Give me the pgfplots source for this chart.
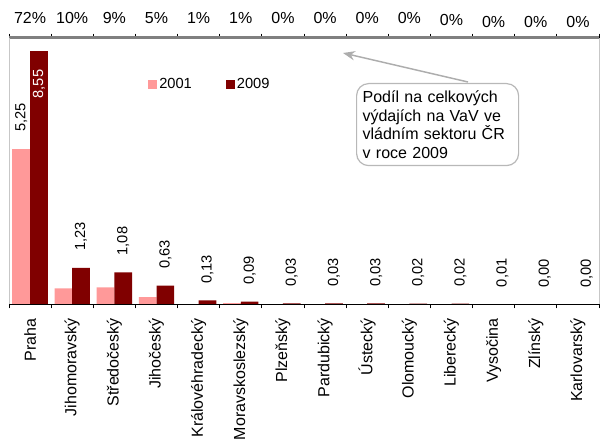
\documentclass[border=0pt]{standalone}
\usepackage{graphicx}
\usepackage{pgfplots}
\pgfplotsset{compat=1.18}
\usepackage{fontspec}
\setmainfont{Liberation Sans}
\usetikzlibrary{arrows.meta}
\definecolor{c01}{HTML}{FF9999}
\definecolor{c09}{HTML}{800000}
\newcommand{\numlab}{\rotatebox{90}{\pgfmathprintnumber[fixed,zerofill,precision=2,use comma]{\pgfplotspointmeta}}}
\pgfplotsset{
  vlabR/.style={nodes near coords={\numlab}, nodes near coords style={anchor=south, inner ysep=12.5pt, inner xsep=0pt, xshift=6.64pt, font=\fontsize{11}{13}\selectfont, black}},
  vlabL/.style={nodes near coords={\numlab}, nodes near coords style={anchor=south, inner ysep=12.5pt, inner xsep=0pt, xshift=-6.64pt, font=\fontsize{11}{13}\selectfont, black}},
}
\begin{document}
\begin{tikzpicture}
\useasboundingbox (0,0) rectangle (450pt,330.75pt);
\begin{axis}[
  at={(6.75pt,102.5pt)}, anchor=south west,
  scale only axis, width=442.5pt, height=200.1pt,
  xmin=-0.5, xmax=13.5, ymin=0, ymax=9,
  clip=false,
  /pgf/number format/assume math mode=true,
  axis line style={draw=none},
  ytick=\empty,
  xtick={0,...,13},
  xticklabels={Praha,Jihomoravský,Středočeský,Jihočeský,Královéhradecký,Moravskoslezský,Plzeňský,Pardubický,Ústecký,Olomoucký,Liberecký,Vysočina,Zlínský,Karlovarský},
  major tick length=0pt,
  xticklabel style={rotate=90, anchor=east, inner sep=0pt, font=\fontsize{12}{14}\selectfont},
  xticklabel shift=10.3pt,
  extra x ticks={-0.5,0.5,...,13.5},
  extra x tick labels={},
  extra x tick style={major tick length=3pt, tick align=outside, tick style={black, line width=0.75pt}},
  legend style={at={(axis description cs:0.2356,0.824)}, anchor=west, draw=none, fill=none, inner sep=0pt,
    font=\fontsize{11}{13}\selectfont, /tikz/every even column/.append style={column sep=24pt},
    nodes={inner xsep=1.5pt, inner ysep=0pt}},
  legend columns=2,
  sqleg/.style={legend image code/.code={\fill[##1] (0pt,-3.4pt) rectangle (6.75pt,3.4pt);}},
]
% 2001 (all regions except Praha)
\addplot[ybar, bar width=0.42, bar shift=-0.21, fill=c01, draw=none, sqleg]
  coordinates {(1,0.54) (2,0.57) (3,0.24) (4,0.00) (5,0.04) (6,0.00) (7,0.00) (8,0.00) (9,0.00) (10,0.00) (11,0.00) (12,0.00) (13,0.00)};
\addlegendentry{2001}
% 2009 (all regions except Praha)
\addplot[ybar, bar width=0.42, bar shift=0.21, fill=c09, draw=none, sqleg, vlabR]
  coordinates {(1,1.23) (2,1.08) (3,0.63) (4,0.13) (5,0.09) (6,0.03) (7,0.03) (8,0.03) (9,0.02) (10,0.02) (11,0.01) (12,0.00) (13,0.00)};
\addlegendentry{2009}
% Praha
\addplot[ybar, bar width=0.42, bar shift=-0.21, fill=c01, draw=none, forget plot, vlabL]
  coordinates {(0,5.25)};
\addplot[ybar, bar width=0.42, bar shift=0.21, fill=c09, draw=none, forget plot,
  nodes near coords={\numlab},
  nodes near coords style={anchor=north, inner ysep=14pt, inner xsep=0pt, xshift=6.64pt, font=\fontsize{11}{13}\selectfont, white}]
  coordinates {(0,8.55)};
% shares on top
\addplot[draw=none, mark=none, forget plot, point meta=explicit symbolic, nodes near coords,
  nodes near coords style={anchor=base, inner sep=0pt, yshift=10.9pt, font=\fontsize{12}{14}\selectfont, black}]
  coordinates {(0,9) [72\%] (1,9) [10\%] (2,9) [9\%] (3,9) [5\%] (4,9) [1\%] (5,9) [1\%] (6,9) [0\%] (7,9) [0\%] (8,9) [0\%] (9,9) [0\%] (10,8.9) [0\%] (11,8.865) [0\%] (12,8.865) [0\%] (13,8.865) [0\%]};
\draw[color=black!50, line width=1.7pt] (rel axis cs:0,1) -- (rel axis cs:1,1);
\draw[color=black!22, line width=0.75pt] (rel axis cs:0,0) -- (rel axis cs:0,1);
\draw[color=black!22, line width=0.75pt] (rel axis cs:1,0) -- (rel axis cs:1,1);
\draw[black, line width=1.1pt] (rel axis cs:0,0) -- (rel axis cs:1,0);
\end{axis}
\draw[color=black!32, line width=1.1pt, -{Stealth[length=9pt,width=7pt,inset=3pt]}] (351pt,269.25pt) -- (257.25pt,291pt);
\node[draw=black!28, fill=white, rounded corners=9pt, line width=0.9pt, anchor=north west,
  minimum width=121.5pt, minimum height=61.5pt, inner xsep=4.5pt, align=left, text width=112.5pt,
  font=\fontsize{12}{13.9}\selectfont] at (267pt,268.5pt)
  {Podíl na celkových\\výdajích na VaV ve\\vládním sektoru ČR\\v roce 2009};
\end{tikzpicture}
\end{document}
